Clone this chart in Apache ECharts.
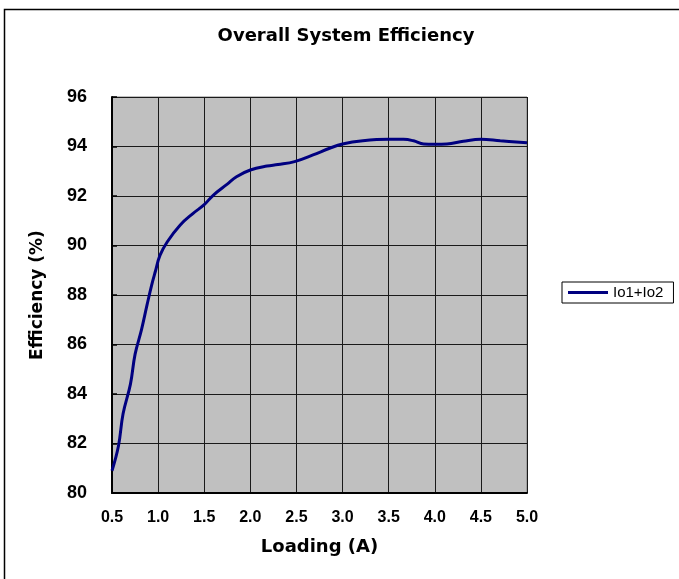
<!DOCTYPE html>
<html>
<head>
<meta charset="utf-8">
<script src="https://cdn.jsdelivr.net/npm/echarts@6/dist/echarts.min.js"></script>
<style>
  html, body { margin: 0; padding: 0; background: #fff; }
  #chart { width: 679px; height: 579px; }
</style>
</head>
<body>
<div id="chart"></div>
<script>
const loading = [0.5, 0.57, 0.62, 0.7, 0.75, 0.82, 0.88, 0.93, 0.97, 1.02, 1.1, 1.24, 1.38, 1.5, 1.6, 1.75, 1.85, 2.0, 2.18, 2.3, 2.48, 2.68, 2.86, 3.0, 3.22, 3.5, 3.66, 3.77, 3.88, 4.0, 4.13, 4.31, 4.5, 4.71, 5.0];
const efficiency = [80.9, 81.9, 83.2, 84.4, 85.6, 86.6, 87.6, 88.4, 88.95, 89.6, 90.15, 90.83, 91.3, 91.65, 92.04, 92.48, 92.78, 93.05, 93.21, 93.27, 93.39, 93.66, 93.93, 94.1, 94.23, 94.29, 94.29, 94.23, 94.1, 94.09, 94.1, 94.21, 94.29, 94.23, 94.15];
const seriesName = 'Io1+Io2';
const xTicks = [0.5, 1.0, 1.5, 2.0, 2.5, 3.0, 3.5, 4.0, 4.5, 5.0];
const yTicks = [80, 82, 84, 86, 88, 90, 92, 94, 96];

const chart = echarts.init(document.getElementById('chart'));
const boldSans = 'Liberation Sans';
const wideBold = 'DejaVu Sans';

chart.setOption({
  backgroundColor: '#fff',
  animation: false,
  title: {
    text: 'Overall System Efficiency',
    left: 346, top: 27, textAlign: 'center', padding: 0,
    textStyle: { fontFamily: wideBold, fontWeight: 'bold', fontSize: 18, color: '#000' }
  },
  graphic: [{
    type: 'rect', silent: true, z: -1,
    shape: { x: 4.5, y: 9.5, width: 720, height: 620 },
    style: { fill: 'none', stroke: '#000', lineWidth: 1.5 }
  }],
  legend: {
    data: [seriesName],
    left: 562, top: 282,
    backgroundColor: '#fff', borderColor: '#000', borderWidth: 1,
    padding: [3, 10, 3, 6],
    icon: 'rect', itemWidth: 40, itemHeight: 3,
    textStyle: { fontFamily: boldSans, fontSize: 15, color: '#000', lineHeight: 14 }
  },
  grid: {
    left: 112, right: 152, top: 97, bottom: 86,
    show: true, backgroundColor: '#c0c0c0', borderColor: '#808080', borderWidth: 1
  },
  xAxis: {
    type: 'value',
    min: xTicks[0], max: xTicks[xTicks.length - 1], interval: 0.5,
    name: 'Loading (A)', nameLocation: 'middle', nameGap: 45,
    nameTextStyle: { fontFamily: wideBold, fontWeight: 'bold', fontSize: 18, color: '#000' },
    axisLine: { onZero: false, lineStyle: { color: '#000', width: 2 } },
    axisTick: { show: false },
    axisLabel: {
      margin: 17, color: '#000', fontFamily: boldSans, fontWeight: 'bold', fontSize: 16,
      formatter: v => v.toFixed(1)
    },
    splitLine: { lineStyle: { color: '#1a1a1a', width: 1 } }
  },
  yAxis: {
    type: 'value',
    min: yTicks[0], max: yTicks[yTicks.length - 1], interval: 2,
    name: 'Efficiency (%)', nameLocation: 'middle', nameGap: 66,
    nameTextStyle: { fontFamily: wideBold, fontWeight: 'bold', fontSize: 17, color: '#000' },
    axisLine: { show: true, onZero: false, lineStyle: { color: '#000', width: 2 } },
    axisTick: { show: true, inside: true, length: 5, lineStyle: { color: '#000', width: 1.5 } },
    axisLabel: { margin: 25, color: '#000', fontFamily: boldSans, fontWeight: 'bold', fontSize: 18 },
    splitLine: { lineStyle: { color: '#1a1a1a', width: 1 } }
  },
  series: [{
    name: seriesName,
    type: 'line',
    data: loading.map((x, i) => [x, efficiency[i]]),
    smooth: 0.4,
    symbol: 'none',
    lineStyle: { color: '#000080', width: 3 },
    itemStyle: { color: '#000080' }
  }]
});
</script>
</body>
</html>
